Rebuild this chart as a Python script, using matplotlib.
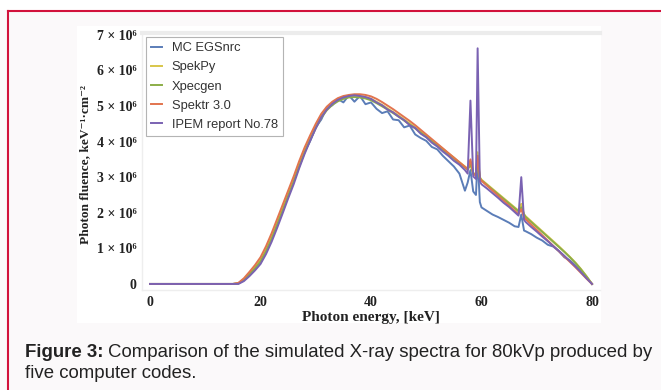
import matplotlib
matplotlib.use('Agg')
import matplotlib.pyplot as plt
from matplotlib.patches import Rectangle
from matplotlib.lines import Line2D
from matplotlib.transforms import Bbox, TransformedBbox

# ---------------- data (photon fluence in units of 1e6 keV^-1 cm^-2) ----------------
energy_kev = [0, 5, 10, 15, 16, 17, 18, 19, 20, 21, 22, 23, 24, 25, 26, 27, 28, 29, 30,
              31, 32, 33, 34, 35, 36, 37, 38, 39, 40, 41, 42, 43, 44, 45, 46, 47, 48, 49,
              50, 51, 52, 53, 54, 55, 56, 57, 57.5, 58, 58.5, 59, 59.3, 59.7, 60, 61, 62,
              63, 64, 65, 66, 66.7, 67.2, 67.7, 68, 69, 70, 71, 72, 73, 74, 75, 76, 77,
              78, 79, 80]

mc_egsnrc = [0, 0, 0, 0, 0.02, 0.12, 0.28, 0.45, 0.66, 0.95, 1.30, 1.70, 2.10, 2.50, 2.88,
             3.30, 3.72, 4.02, 4.40, 4.62, 4.95, 5.02, 5.20, 5.10, 5.30, 5.12, 5.28, 5.05,
             5.10, 4.92, 4.80, 4.85, 4.62, 4.60, 4.40, 4.45, 4.20, 4.10, 4.02, 3.85, 3.78,
             3.60, 3.45, 3.30, 3.10, 2.62, 2.85, 3.20, 2.60, 2.50, 3.55, 2.30, 2.15, 2.05,
             1.95, 1.88, 1.80, 1.72, 1.62, 1.60, 1.95, 1.50, 1.48, 1.40, 1.30, 1.22, 1.10,
             1.05, 0.92, 0.75, 0.66, 0.52, 0.38, 0.20, 0]

spekpy = [0, 0, 0, 0, 0.02, 0.13, 0.30, 0.48, 0.68, 0.98, 1.33, 1.73, 2.13, 2.53, 2.93,
          3.36, 3.76, 4.10, 4.43, 4.72, 4.93, 5.08, 5.18, 5.25, 5.28, 5.29, 5.28, 5.25,
          5.20, 5.12, 5.03, 4.93, 4.83, 4.73, 4.62, 4.51, 4.40, 4.28, 4.16, 4.04, 3.92,
          3.80, 3.67, 3.55, 3.42, 3.30, 3.24, 3.45, 3.12, 3.08, 3.70, 3.00, 2.93, 2.80,
          2.67, 2.54, 2.41, 2.28, 2.15, 2.06, 2.25, 1.96, 1.90, 1.76, 1.62, 1.48, 1.34,
          1.20, 1.06, 0.91, 0.76, 0.60, 0.42, 0.22, 0]

xpecgen = [0, 0, 0, 0, 0.01, 0.11, 0.27, 0.44, 0.63, 0.92, 1.26, 1.66, 2.06, 2.47, 2.87,
           3.30, 3.70, 4.05, 4.38, 4.67, 4.88, 5.03, 5.13, 5.20, 5.24, 5.25, 5.24, 5.21,
           5.16, 5.08, 4.99, 4.90, 4.80, 4.70, 4.59, 4.48, 4.37, 4.25, 4.13, 4.01, 3.89,
           3.77, 3.64, 3.52, 3.39, 3.27, 3.21, 3.35, 3.10, 3.05, 3.50, 2.98, 2.91, 2.78,
           2.65, 2.52, 2.39, 2.26, 2.13, 2.04, 2.15, 1.95, 1.88, 1.74, 1.60, 1.46, 1.32,
           1.18, 1.04, 0.90, 0.75, 0.59, 0.41, 0.21, 0]

spektr_3 = [0, 0, 0, 0, 0.03, 0.16, 0.34, 0.53, 0.75, 1.06, 1.42, 1.82, 2.22, 2.62, 3.02,
            3.45, 3.84, 4.18, 4.50, 4.78, 4.98, 5.12, 5.22, 5.28, 5.31, 5.33, 5.33, 5.31,
            5.27, 5.20, 5.11, 5.01, 4.91, 4.80, 4.69, 4.58, 4.46, 4.33, 4.20, 4.07, 3.94,
            3.81, 3.68, 3.55, 3.42, 3.29, 3.22, 3.50, 3.10, 3.04, 3.60, 2.96, 2.90, 2.76,
            2.62, 2.48, 2.34, 2.20, 2.06, 1.96, 2.10, 1.87, 1.82, 1.67, 1.52, 1.37, 1.22,
            1.07, 0.92, 0.77, 0.62, 0.47, 0.31, 0.15, 0]

ipem_78 = [0, 0, 0, 0, 0.00, 0.08, 0.22, 0.38, 0.56, 0.84, 1.18, 1.57, 1.98, 2.40, 2.80,
           3.25, 3.66, 4.03, 4.37, 4.68, 4.90, 5.06, 5.17, 5.24, 5.28, 5.30, 5.28, 5.25,
           5.20, 5.10, 5.02, 4.90, 4.82, 4.70, 4.60, 4.46, 4.38, 4.22, 4.12, 3.97, 3.86,
           3.72, 3.60, 3.46, 3.35, 3.20, 3.10, 5.15, 3.02, 2.95, 6.62, 2.88, 2.80, 2.68,
           2.55, 2.42, 2.28, 2.16, 2.02, 1.92, 3.00, 1.80, 1.74, 1.60, 1.47, 1.33, 1.20,
           1.06, 0.93, 0.79, 0.64, 0.49, 0.33, 0.16, 0]

series_names = ['MC EGSnrc', 'SpekPy', 'Xpecgen', 'Spektr 3.0', 'IPEM report No.78']
series_values = [mc_egsnrc, spekpy, xpecgen, spektr_3, ipem_78]
series_colors = ['#5b7db8', '#d8c64a', '#8cae48', '#e2744e', '#7a62b2']

unit = 1e6
ytick_vals = [0, 1, 2, 3, 4, 5, 6, 7]
ytick_labels = ['0', '1 × 10⁶', '2 × 10⁶', '3 × 10⁶', '4 × 10⁶', '5 × 10⁶', '6 × 10⁶', '7 × 10⁶']
xtick_vals = [0, 20, 40, 60, 80]
xtick_labels = ['0', '20', '40', '60', '80']

caption_bold = 'Figure 3:'
caption_rest = 'Comparison of the simulated X-ray spectra for 80kVp produced by'
caption_line2 = 'five computer codes.'

# ---------------- layout ----------------
W, H = 661, 390
serif = ['Liberation Serif', 'DejaVu Serif']
sans = ['Liberation Sans', 'DejaVu Sans']

fig = plt.figure(figsize=(W / 100, H / 100), dpi=100, facecolor='#fbf9fa')

def fx(px):
    return px / W

def fy(py):
    return 1 - py / H

fig.patches.append(Rectangle((0, fy(10)), 1, 10 / H, transform=fig.transFigure,
                             facecolor='white', edgecolor='none', zorder=-2))
fig.patches.append(Rectangle((fx(77), fy(323)), (601 - 77) / W, (323 - 26) / H,
                             transform=fig.transFigure, facecolor='white',
                             edgecolor='none', zorder=-2))
fig.add_artist(Line2D([fx(8), 1], [fy(10.5), fy(10.5)], transform=fig.transFigure,
                      color='#d2123c', lw=1.5))
fig.add_artist(Line2D([fx(8), fx(8)], [0, fy(10.5)], transform=fig.transFigure,
                      color='#d2123c', lw=1.5))

ax = fig.add_axes([fx(142), fy(290), (600 - 142) / W, (290 - 33) / H])
ax.set_zorder(2)
ax.set_facecolor('white')

for name, vals, col in zip(series_names, series_values, series_colors):
    ax.plot(energy_kev, [v * unit for v in vals], color=col, lw=1.4, label=name)

ax.set_xlim(-1.45, 81.45)
ax.set_ylim(-0.17 * unit, 7.05 * unit)
ax.set_yticks([v * unit for v in ytick_vals])
ax.set_yticklabels(ytick_labels)
ax.set_xticks(xtick_vals)
ax.set_xticklabels(xtick_labels)
ax.tick_params(length=0, pad=4, labelsize=10, labelcolor='#222222')
for lab in ax.get_yticklabels() + ax.get_xticklabels():
    lab.set_family(serif)
    lab.set_fontweight('bold')

for side in ['left', 'bottom']:
    ax.spines[side].set_color('#eeeeee')
    ax.spines[side].set_linewidth(1.0)
ax.spines['top'].set_color('#ececec')
ax.spines['top'].set_linewidth(3)
ax.spines['right'].set_visible(False)

clip = TransformedBbox(Bbox([[0, 0], [fx(601), 1]]), fig.transFigure)
ax.get_xticklabels()[-1].set_clip_box(clip)
ax.get_xticklabels()[-1].set_clip_on(True)

leg = ax.legend(loc='upper left', bbox_to_anchor=((146 - 142) / 458, (290 - 37) / 257),
                borderaxespad=0, fancybox=False, framealpha=1, edgecolor='#b4b4b4',
                prop={'family': sans, 'size': 9.3}, handlelength=0.8, handletextpad=0.8,
                labelspacing=0.55, borderpad=0.4)
leg.get_frame().set_linewidth(0.8)
for t in leg.get_texts():
    t.set_color('#333333')

fig.text(fx(371), fy(317), 'Photon energy, [keV]', ha='center', va='center',
         family=serif, fontweight='bold', fontsize=11, color='#222222')
fig.text(fx(85), fy(164), 'Photon fluence, keV⁻¹·cm⁻²', ha='center', va='center',
         rotation=90, family=serif, fontweight='bold', fontsize=9.6, color='#222222')

t1 = fig.text(fx(25), fy(357), caption_bold, family=sans, fontweight='bold',
              fontsize=13.4, color='#222222', va='baseline', ha='left')
renderer = fig.canvas.get_renderer()
bb = t1.get_window_extent(renderer)
fig.text((bb.x1 + 4) / W, fy(357), caption_rest, family=sans, fontsize=13.4,
         color='#222222', va='baseline', ha='left')
fig.text(fx(25), fy(378), caption_line2, family=sans, fontsize=13.4,
         color='#222222', va='baseline', ha='left')

fig.savefig('out.png', dpi=100, facecolor=fig.get_facecolor())
